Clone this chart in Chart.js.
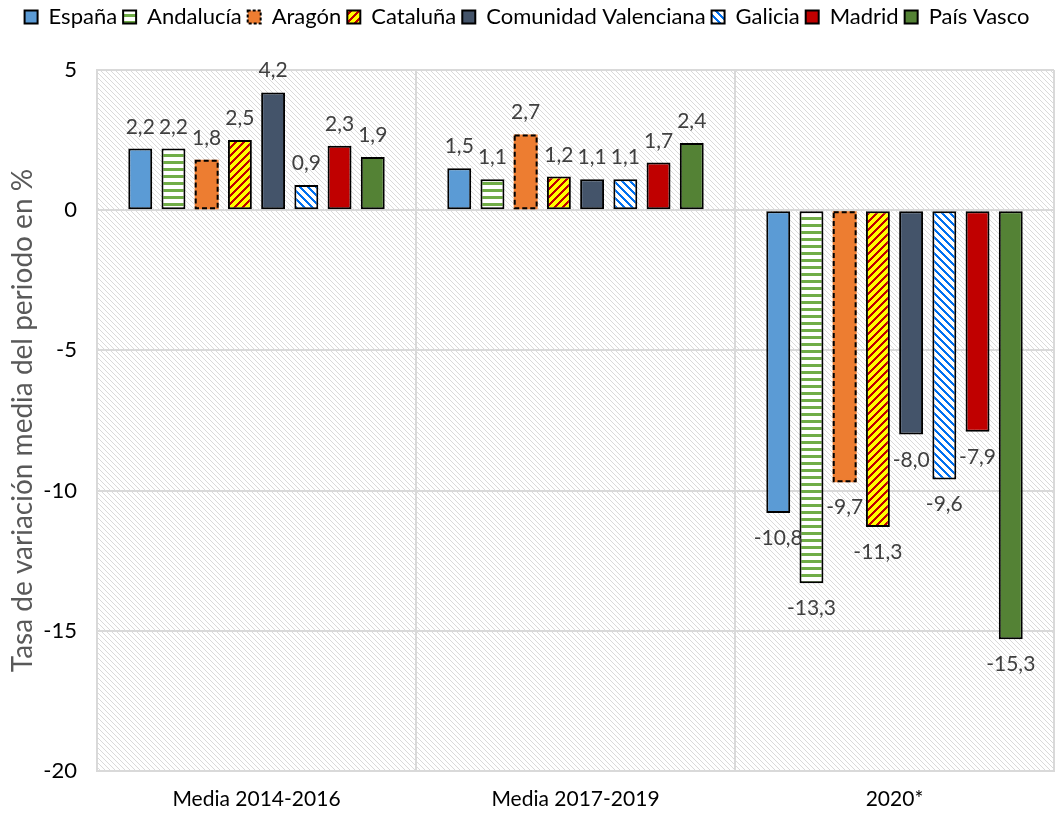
<!doctype html>
<html>

<head>
    <meta charset="utf-8">
    <title>Tasa de variación media</title>
    <script src="https://cdn.jsdelivr.net/npm/chart.js"></script>
    <style>
        body { margin: 0; background: #fff; }
        #contenedor { width: 1055px; height: 816px; }
    </style>
</head>

<body>
    <div id="contenedor"><canvas id="grafico"></canvas></div>

    <script>
        // datos
        const periodos = ['Media 2014-2016', 'Media 2017-2019', '2020*'];
        const espana = [2.2, 1.5, -10.8];
        const andalucia = [2.2, 1.1, -13.3];
        const aragon = [1.8, 2.7, -9.7];
        const cataluna = [2.5, 1.2, -11.3];
        const comunidadValenciana = [4.2, 1.1, -8.0];
        const galicia = [0.9, 1.1, -9.6];
        const madrid = [2.3, 1.7, -7.9];
        const paisVasco = [1.9, 2.4, -15.3];
        const ejeMin = -20, ejeMax = 5, ejePaso = 5;

        const fuente = 'Lato, "Open Sans", sans-serif';
        const canvas = document.getElementById('grafico');
        const ctx = canvas.getContext('2d');

        // tramas tipo excel
        function trama(fondo, linea, tam, grosor, tipo) {
            const c = document.createElement('canvas');
            c.width = tam; c.height = tam;
            const g = c.getContext('2d');
            g.fillStyle = fondo;
            g.fillRect(0, 0, tam, tam);
            g.fillStyle = linea;
            for (let x = 0; x < tam; x++) {
                for (let y = 0; y < tam; y++) {
                    let d;
                    if (tipo === 'h') d = y;
                    else if (tipo === '/') d = x + y;
                    else d = x - y + tam;
                    if (d % tam < grosor) g.fillRect(x, y, 1, 1);
                }
            }
            return ctx.createPattern(c, 'repeat');
        }

        const tramaAndalucia = trama('#ffffff', '#70AD47', 7, 3, 'h');
        const tramaCataluna = trama('#FFFF00', '#C00000', 8, 3, '/');
        const tramaGalicia = trama('#ffffff', '#0070F0', 8, 3, '\\');
        const tramaFondo = trama('#ffffff', '#dadada', 5, 1, '\\');

        function formato(v) {
            return v.toFixed(1).replace('.', ',');
        }

        // la leyenda ocupa la franja superior hasta el área del gráfico
        const altoLeyenda = {
            id: 'altoLeyenda',
            beforeLayout(chart) {
                const l = chart.legend;
                if (l && !l._parcheado) {
                    const fitOriginal = l.fit;
                    l.fit = function () {
                        fitOriginal.call(this);
                        this.height = 70;
                    };
                    l._parcheado = true;
                }
            }
        };

        const fondoRayado = {
            id: 'fondoRayado',
            beforeDraw(chart) {
                const a = chart.chartArea;
                const c = chart.ctx;
                c.save();
                c.fillStyle = tramaFondo;
                c.fillRect(a.left, a.top, a.right - a.left, a.bottom - a.top);
                c.restore();
            }
        };

        // borde discontinuo para Aragón y etiquetas de datos
        const etiquetas = {
            id: 'etiquetas',
            afterDatasetsDraw(chart) {
                const c = chart.ctx;
                c.save();
                const metaAragon = chart.getDatasetMeta(2);
                c.strokeStyle = '#000';
                c.lineWidth = 2;
                c.setLineDash([5, 3]);
                metaAragon.data.forEach((el) => {
                    const p = el.getProps(['x', 'y', 'base', 'width'], true);
                    const top = Math.min(p.y, p.base);
                    const alto = Math.abs(p.base - p.y);
                    c.strokeRect(p.x - p.width / 2 + 1, top + 1, p.width - 2, alto - 2);
                });
                c.setLineDash([]);

                c.fillStyle = '#404040';
                c.font = '21px ' + fuente;
                c.textAlign = 'center';
                c.textBaseline = 'alphabetic';
                chart.data.datasets.forEach((ds, i) => {
                    const meta = chart.getDatasetMeta(i);
                    meta.data.forEach((el, j) => {
                        const v = ds.data[j];
                        if (v >= 0) {
                            c.fillText(formato(v), el.x, el.y - 15);
                        } else {
                            c.fillText(formato(v), el.x, el.y + 32);
                        }
                    });
                });
                c.restore();
            }
        };

        function serie(nombre, datos, relleno, borde) {
            return {
                label: nombre,
                data: datos,
                backgroundColor: relleno,
                borderColor: '#000',
                borderWidth: borde,
                borderSkipped: false
            };
        }

        const grafico = new Chart(ctx, {
            type: 'bar',
            data: {
                labels: periodos,
                datasets: [
                    serie('España', espana, '#5B9BD5', 2),
                    serie('Andalucía', andalucia, tramaAndalucia, 2),
                    serie('Aragón', aragon, '#ED7D31', 0),
                    serie('Cataluña', cataluna, tramaCataluna, 2),
                    serie('Comunidad Valenciana', comunidadValenciana, '#44546A', 2),
                    serie('Galicia', galicia, tramaGalicia, 2),
                    serie('Madrid', madrid, '#C00000', 2),
                    serie('País Vasco', paisVasco, '#548235', 2)
                ]
            },
            options: {
                responsive: true,
                maintainAspectRatio: false,
                animation: false,
                categoryPercentage: 0.833,
                barPercentage: 0.72,
                layout: { padding: { top: 0, right: 1, left: 0, bottom: 0 } },
                plugins: {
                    tooltip: { enabled: false },
                    legend: {
                        position: 'top',
                        labels: {
                            color: '#000',
                            boxWidth: 13,
                            boxHeight: 13,
                            padding: 6,
                            font: { family: fuente, size: 22 },
                            generateLabels(chart) {
                                const items = Chart.defaults.plugins.legend.labels.generateLabels(chart);
                                items.forEach((it) => {
                                    it.strokeStyle = '#000';
                                    it.lineWidth = 2;
                                    if (it.text === 'Aragón') it.lineDash = [3, 2];
                                });
                                return items;
                            }
                        }
                    }
                },
                scales: {
                    x: {
                        grid: { color: '#d9d9d9', lineWidth: 2, drawTicks: false, offset: true },
                        border: { color: '#d9d9d9', width: 2 },
                        ticks: { color: '#000', padding: 16, font: { family: fuente, size: 21 } },
                        afterFit(s) { s.height = 45; }
                    },
                    y: {
                        min: ejeMin,
                        max: ejeMax,
                        ticks: {
                            stepSize: ejePaso,
                            color: '#000',
                            padding: 20,
                            font: { family: fuente, size: 22 },
                            callback: (v) => String(v)
                        },
                        grid: { color: '#d9d9d9', lineWidth: 2, drawTicks: false },
                        border: { color: '#d9d9d9', width: 2 },
                        title: {
                            display: true,
                            text: 'Tasa de variación media del periodo en %',
                            color: '#595959',
                            font: { family: fuente, size: 28 },
                            padding: { top: 6, bottom: 4 }
                        },
                        afterFit(s) { s.width = 97; }
                    }
                }
            },
            plugins: [altoLeyenda, fondoRayado, etiquetas]
        });
    </script>
</body>

</html>
